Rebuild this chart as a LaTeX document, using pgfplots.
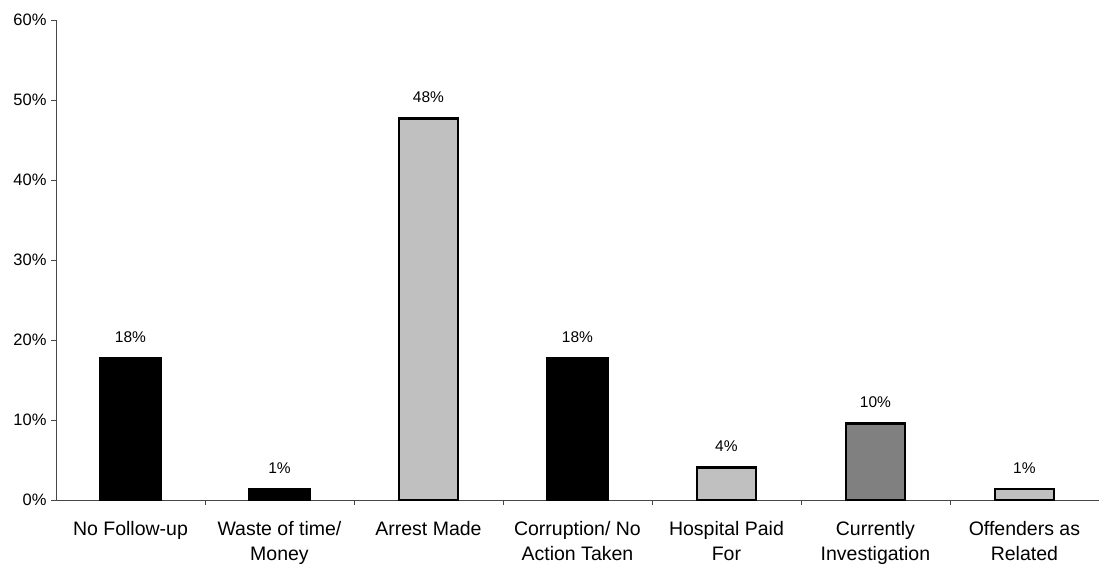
\documentclass[border=0pt]{standalone}
\usepackage{pgfplots}
\pgfplotsset{compat=1.18}
\usepackage{fontspec}
\setmainfont{Liberation Sans}
\definecolor{lgray}{RGB}{192,192,192}
\definecolor{dgray}{RGB}{128,128,128}
\definecolor{axgray}{RGB}{70,70,70}

\begin{document}
\begin{tikzpicture}
\useasboundingbox (-56pt,-67pt) rectangle (1051pt,500pt);
\begin{axis}[
  scale only axis, width=1043pt, height=480pt,
  at={(0pt,0pt)}, anchor=south west,
  xmin=-0.5, xmax=6.5, ymin=0, ymax=60,
  axis x line=bottom, axis y line=left,
  axis line style={axgray, line width=0.8pt, -},
  ytick={0,10,...,60},
  yticklabels={0\%,10\%,20\%,30\%,40\%,50\%,60\%},
  yticklabel style={font=\fontsize{16.5}{18}\selectfont, xshift=-1pt},
  ytick style={axgray, line width=0.8pt},
  tick align=outside, major tick length=5pt,
  xtick={0,...,6},
  xticklabels={No Follow-up,{Waste of time/\\Money},Arrest Made,{Corruption/ No\\Action Taken},{Hospital Paid\\For},{Currently\\Investigation},{Offenders as\\Related}},
  xticklabel style={font=\fontsize{19.5}{25}\selectfont, align=center, yshift=-13pt},
  x tick style={draw=none},
  minor xtick={0.5,1.5,...,5.5},
  minor x tick style={axgray, line width=0.8pt, draw=axgray},
  minor tick length=5pt,
  ybar, bar shift=0pt,
  nodes near coords, point meta=explicit symbolic,
  every node near coord/.append style={font=\fontsize{15.5}{18}\selectfont, anchor=south, yshift=11pt},
  clip=false,
]
\addplot[fill=black, draw=black, line width=0.5pt, bar width=62pt] coordinates {
  (0,17.8) [18\%]
  (1,1.45) [1\%]
  (3,17.8) [18\%]
};
\addplot[fill=lgray, draw=black, line width=2.6pt, bar width=59pt] coordinates {
  (2,47.7) [48\%]
  (4,4.1) [4\%]
  (6,1.4) [1\%]
};
\addplot[fill=dgray, draw=black, line width=2.6pt, bar width=59pt] coordinates {
  (5,9.6) [10\%]
};
\end{axis}
\end{tikzpicture}
\end{document}
